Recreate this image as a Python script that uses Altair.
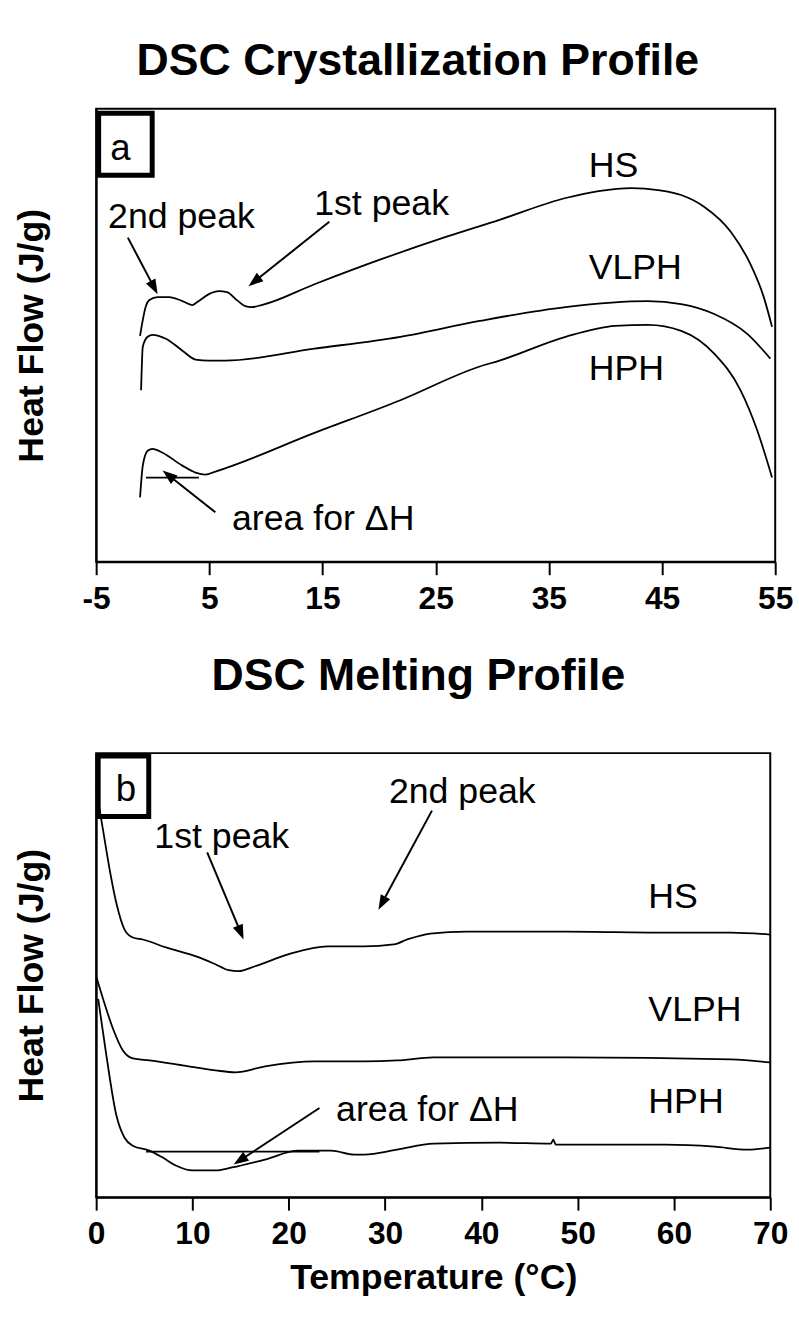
import math
import altair as alt
import pandas as pd

FONT = "Liberation Sans"

# ---------------- Panel a : crystallization ----------------
a_xticks = [-5, 5, 15, 25, 35, 45, 55]
a_hs_x = [-1.12, -0.60, -0.30, 0.43, 1.45, 2.62, 3.49, 3.93, 4.96, 5.83, 6.56, 7.43, 8.16, 8.75, 9.62,
          14.29, 20.13, 25.97, 30.64, 36.48, 39.40, 42.31, 44.65, 46.69, 48.74, 51.07, 52.82, 53.99, 54.72]
a_hs_y = [22.8, 25.8, 26.4, 26.7, 26.7, 26.3, 25.9, 26.2, 27.0, 27.3, 27.2, 26.4, 25.8, 25.7, 25.9,
          28.0, 30.5, 32.8, 34.5, 36.7, 37.4, 37.7, 37.5, 37.0, 35.8, 33.3, 30.0, 26.7, 23.7]
a_vl_x = [-1.03, -0.88, -0.45, -0.01, 1.16, 2.62, 3.78, 4.96, 6.41, 14.29, 21.88, 28.89, 36.48,
          43.74, 46.69, 49.61, 52.53, 54.57]
a_vl_y = [17.3, 21.7, 22.7, 22.9, 22.5, 21.3, 20.4, 20.3, 20.3, 21.5, 22.7, 24.3, 25.7,
          26.3, 26.0, 25.0, 23.0, 20.5]
a_hp_x = [-1.12, -0.88, -0.45, -0.01, 0.87, 2.62, 3.78, 4.66, 5.53, 14.29, 21.88, 28.89, 30.64,
          36.48, 40.86, 43.77, 46.69, 49.61, 51.94, 53.40, 54.72]
a_hp_y = [6.5, 9.7, 11.2, 11.4, 11.0, 9.7, 9.0, 8.8, 9.1, 13.0, 16.3, 19.7, 20.3,
          22.7, 23.8, 23.9, 23.3, 21.0, 17.3, 13.3, 8.5]
a_base = {"x": [-0.60], "x2": [4.08], "y": [8.5]}
a_arrow_sx = [-2.20, 15.60, 5.53]
a_arrow_sy = [32.7, 34.3, 5.0]
a_arrow_tx = [0.43, 8.46, 0.87]
a_arrow_ty = [27.0, 27.8, 9.2]
a_text = ["2nd peak", "1st peak", "HS", "VLPH", "HPH", "area for ΔH"]
a_text_x = [-3.95, 14.26, 38.52, 38.52, 38.52, 7.0]
a_text_y = [33.7, 35.0, 38.8, 28.5, 18.3, 3.2]
a_box = {"x": [-4.78], "x2": [-0.05], "y": [45.25], "y2": [39.0]}
a_letter = {"x": [-2.85], "y": [40.5], "t": ["a"]}

# ---------------- Panel b : melting ----------------
b_xticks = [0, 10, 20, 30, 40, 50, 60, 70]
b_hs_x = [0.03, 0.72, 1.41, 2.09, 2.95, 3.81, 4.84, 7.24, 10.68, 12.38, 13.76, 14.79, 16.50, 19.94,
          24.06, 27.83, 30.91, 32.29, 34.69, 38.47, 48.76, 59.06, 65.92, 69.97]
b_hs_y = [41.0, 37.0, 33.0, 29.7, 27.0, 26.2, 26.0, 25.2, 24.2, 23.5, 22.9, 22.8, 23.3, 24.5,
          25.3, 25.3, 25.5, 26.0, 26.6, 26.8, 26.8, 26.7, 26.7, 26.5]
b_vl_x = [0.03, 0.72, 1.75, 2.78, 3.81, 5.53, 8.96, 12.38, 14.44, 17.53, 22.68, 27.83, 31.26,
          35.03, 48.76, 65.92, 69.97]
b_vl_y = [22.2, 20.0, 17.0, 14.8, 14.0, 13.8, 13.3, 12.8, 12.6, 13.2, 13.7, 13.7, 13.8,
          14.1, 14.1, 13.9, 13.6]
b_hp_x = [0.21, 1.06, 2.09, 2.95, 3.81, 5.53, 6.90, 8.27, 9.99, 12.38, 14.10, 17.53, 20.97, 24.40,
          26.80, 27.83, 31.26, 35.03, 41.90, 47.22, 47.46, 47.74, 52.19, 59.06, 64.21, 67.64, 69.97]
b_hp_y = [20.0, 14.3, 8.3, 6.0, 5.2, 4.7, 4.0, 3.2, 2.7, 2.7, 3.0, 3.8, 4.7, 4.7,
          4.3, 4.3, 4.8, 5.4, 5.5, 5.4, 5.8, 5.3, 5.3, 5.3, 5.1, 4.8, 5.0]
b_base = {"x": [5.18], "x2": [23.19], "y": [4.6]}
b_arrow_sx = [11.53, 34.87, 23.19]
b_arrow_sy = [34.8, 39.0, 9.0]
b_arrow_tx = [15.31, 29.31, 14.28]
b_arrow_ty = [26.0, 29.0, 3.3]
b_text = ["1st peak", "2nd peak", "HS", "VLPH", "HPH", "area for ΔH"]
b_text_x = [6.04, 30.40, 57.34, 57.34, 57.34, 24.91]
b_text_y = [35.2, 39.8, 29.2, 17.8, 8.5, 7.7]
b_box = {"x": [0.21], "x2": [5.46], "y": [44.5], "y2": [38.4]}
b_letter = {"x": [3.09], "y": [40.0], "t": ["b"]}

ARROW_PATH = "M0,0L-0.36,1L0.36,1Z"


def lines_df(series):
    rows = []
    for name, xs, ys in series:
        for i, (x, y) in enumerate(zip(xs, ys)):
            rows.append({"x": x, "y": y, "s": name, "i": i})
    return pd.DataFrame(rows)


def arrows(sx, sy, tx, ty, pxx, pxy):
    shafts, heads = [], []
    for a, b, c, d in zip(sx, sy, tx, ty):
        dx = (c - a) * pxx
        dy = -(d - b) * pxy
        length = math.hypot(dx, dy)
        frac = max(length - 8.0, 0) / length
        shafts.append({"x": a, "y": b, "x2": a + (c - a) * frac, "y2": b + (d - b) * frac})
        ang = math.degrees(math.atan2(dx, -dy)) % 360
        heads.append({"x": c, "y": d, "angle": ang})
    return pd.DataFrame(shafts), pd.DataFrame(heads)


def panel(series, base, arr, texts, box, letter, xdom, ydom, xticks, w, h,
          title, title_size, title_dx, title_offset, xtitle):
    xs = alt.Scale(domain=xdom, nice=False, zero=False)
    ys = alt.Scale(domain=ydom, nice=False, zero=False)
    xaxis = alt.Axis(values=xticks, title=xtitle, grid=False, tickSize=13, tickWidth=2,
                     domainWidth=2, labelFont=FONT, labelFontSize=32, labelFontWeight="bold",
                     labelPadding=9, labelColor="black", labelFlush=False,
                     labelExpr="datum.value + ''",
                     titleFont=FONT, titleFontSize=36, titleFontWeight="bold",
                     titlePadding=11, titleColor="black")
    yaxis = alt.Axis(title="Heat Flow (J/g)", labels=False, ticks=False, grid=False,
                     domainWidth=2, minExtent=0, titlePadding=46, titleFont=FONT,
                     titleFontSize=36, titleFontWeight="bold", titleColor="black")
    pxx = w / (xdom[1] - xdom[0])
    pxy = h / (ydom[1] - ydom[0])
    shafts, heads = arrows(*arr, pxx, pxy)

    X = alt.X("x:Q", scale=xs, axis=xaxis)
    Y = alt.Y("y:Q", scale=ys, axis=yaxis)

    l_lines = alt.Chart(lines_df(series)).mark_line(
        color="black", strokeWidth=1.8, interpolate="monotone"
    ).encode(x=X, y=Y, detail="s:N", order="i:Q")
    l_base = alt.Chart(pd.DataFrame(base)).mark_rule(color="black", strokeWidth=1.8).encode(
        x="x:Q", x2="x2:Q", y="y:Q")
    l_shaft = alt.Chart(shafts).mark_rule(color="black", strokeWidth=2).encode(
        x="x:Q", y="y:Q", x2="x2:Q", y2="y2:Q")
    l_head = alt.Chart(heads).mark_point(
        shape=ARROW_PATH, filled=True, color="black", size=900, opacity=1, strokeWidth=0
    ).encode(x="x:Q", y="y:Q", angle=alt.Angle("angle:Q", scale=None))
    l_text = alt.Chart(pd.DataFrame({"x": texts[1], "y": texts[2], "t": texts[0]})).mark_text(
        align="left", baseline="alphabetic", font=FONT, fontSize=36, color="black"
    ).encode(x="x:Q", y="y:Q", text="t:N")
    l_box = alt.Chart(pd.DataFrame(box)).mark_rect(
        fillOpacity=0, stroke="black", strokeWidth=5
    ).encode(x="x:Q", x2="x2:Q", y="y:Q", y2="y2:Q")
    l_letter = alt.Chart(pd.DataFrame(letter)).mark_text(
        align="center", baseline="alphabetic", font=FONT, fontSize=37, color="black"
    ).encode(x="x:Q", y="y:Q", text="t:N")

    return alt.layer(l_lines, l_base, l_shaft, l_head, l_text, l_box, l_letter).properties(
        width=w, height=h,
        title=alt.TitleParams(text=title, font=FONT, fontSize=title_size, fontWeight="bold",
                              anchor="middle", dx=title_dx, offset=title_offset, frame="group",
                              color="black"),
    )


top = panel(
    [("HS", a_hs_x, a_hs_y), ("VLPH", a_vl_x, a_vl_y), ("HPH", a_hp_x, a_hp_y)],
    a_base, (a_arrow_sx, a_arrow_sy, a_arrow_tx, a_arrow_ty),
    (a_text, a_text_x, a_text_y), a_box, a_letter,
    [-5, 55], [0, 45.7], a_xticks, 685, 457,
    "DSC Crystallization Profile", 45, -18, 25, None,
)
bottom = panel(
    [("HS", b_hs_x, b_hs_y), ("VLPH", b_vl_x, b_vl_y), ("HPH", b_hp_x, b_hp_y)],
    b_base, (b_arrow_sx, b_arrow_sy, b_arrow_tx, b_arrow_ty),
    (b_text, b_text_x, b_text_y), b_box, b_letter,
    [0, 70], [0, 44.8], b_xticks, 680, 448,
    "DSC Melting Profile", 45, -15, 55, "Temperature (°C)",
)

chart = alt.vconcat(top, bottom, spacing=38).properties(
    padding={"left": 13, "top": 33, "right": 5, "bottom": 5}
).configure_view(stroke="black", strokeWidth=2).configure_axis(
    domainColor="black", tickColor="black"
)

chart.save("out.html", embed_options={"renderer": "svg", "actions": False})
